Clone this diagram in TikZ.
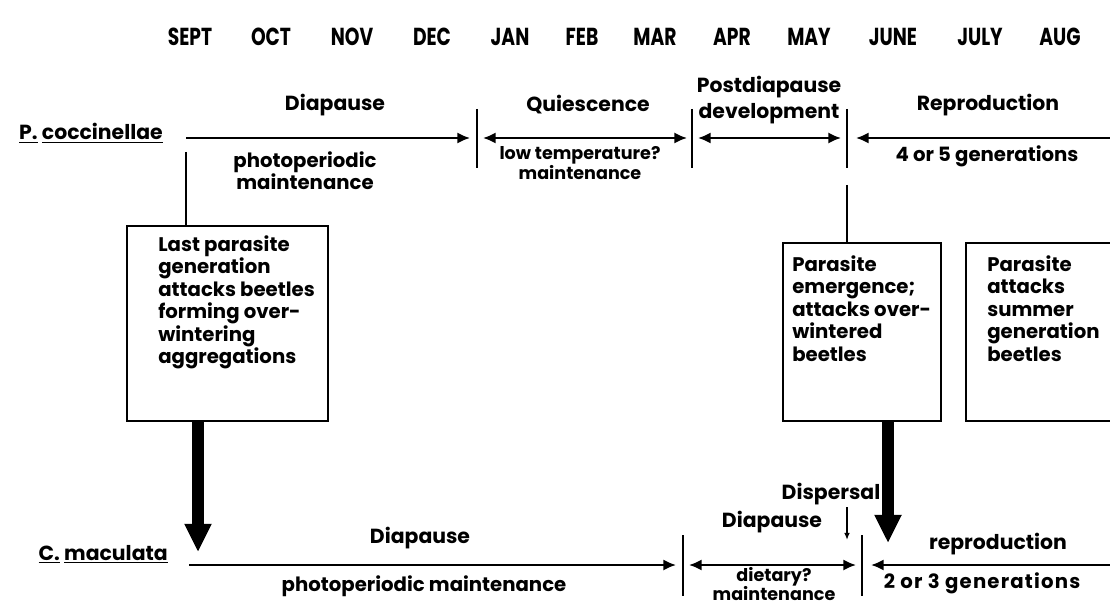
\documentclass[tikz,border=0pt]{standalone}
\usepackage{fontspec}
\setmainfont{Poppins}
\newfontfamily\monthfont{Poppins}[FakeStretch=0.76]
\newfontfamily\widefont{Poppins}[LetterSpace=6]
\usetikzlibrary{arrows.meta}

\tikzset{month/.style={font=\monthfont\bfseries\fontsize{17.5}{19}\selectfont,inner sep=0pt},
phase/.style={font=\bfseries\fontsize{14.5}{16}\selectfont,inner sep=0pt},
note/.style={font=\bfseries\fontsize{14}{15.5}\selectfont,inner sep=0pt,align=center},
species/.style={font=\bfseries\fontsize{14.5}{16}\selectfont,anchor=east,inner sep=0pt},
stage box/.style={draw,line width=1.6pt,anchor=north west,inner sep=0pt},
box text/.style={font=\bfseries\fontsize{14}{16}\selectfont,anchor=north west,align=left,inner sep=0pt},
time line/.style={line width=1.6pt},
one way/.style={time line,-{Latex[length=9pt,width=8pt]}},
two way/.style={time line,{Latex[length=9pt,width=8pt]}-{Latex[length=9pt,width=8pt]}},
back way/.style={time line,{Latex[length=9pt,width=8pt]}-},
big arrow/.style={line width=8pt,-{Triangle[length=20pt,width=18pt]}},
small arrow/.style={line width=1pt,-{Latex[length=5pt,width=4pt]}}}

\begin{document}
\begin{tikzpicture}[x=0.025cm,y=-0.025cm]
\fill[white] (0,0) rectangle (1110,610);
\useasboundingbox (0,0) rectangle (1110,610);

%% months
\foreach \mx/\mname in {190/SEPT,271/OCT,352/NOV,432/DEC,510/JAN,582/FEB,655/MAR,732/APR,809/MAY,893/JUNE,980/JULY,1060/AUG}
  \node [month] (m-\mname) at (\mx,37) {\mname};

%% P. coccinellae line
\node [species] (pc) at (163,133) {\underline{P.} \underline{coccinellae}};
\coordinate (a1) at (186,138);
\coordinate (a2) at (470,138);
\coordinate (a3) at (483,138);
\coordinate (a4) at (687,138);
\coordinate (a5) at (698,138);
\coordinate (a6) at (841,138);
\coordinate (a7) at (856,138);
\coordinate (a8) at (1110,138);
\coordinate (b1t) at (477,109);
\coordinate (b1b) at (477,168);
\coordinate (b2t) at (692,109);
\coordinate (b2b) at (692,168);
\coordinate (b3t) at (847,109);
\coordinate (b3b) at (847,168);

\draw [one way] (a1) -- (a2);
\draw [two way] (a3) -- (a4);
\draw [two way] (a5) -- (a6);
\draw [back way] (a7) -- (a8);
\draw [time line] (b1t) -- (b1b);
\draw [time line] (b2t) -- (b2b);
\draw [time line] (b3t) -- (b3b);

\node [phase] (pc-dia) at (335,105) {Diapause};
\node [note] (pc-dia-m) at (305,171) {photoperiodic\\maintenance};
\node [phase] (pc-qui) at (588,105) {Quiescence};
\node [note,font=\bfseries\fontsize{12.5}{14.5}\selectfont] (pc-qui-m) at (580,163) {low temperature?\\maintenance};
\node [phase,align=center,font=\bfseries\fontsize{14.5}{19}\selectfont] (pc-post) at (769,100) {Postdiapause\\development};
\node [phase] (pc-rep) at (988,105) {Reproduction};
\node [note] (pc-rep-m) at (987,156) {4 or 5 generations};

%% parasite boxes
\node [stage box,minimum width=5.025cm,minimum height=4.875cm] (box1) at (126,225) {};
\node [box text] (box1-t) at (158,235) {Last parasite\\generation\\attacks beetles\\forming over-\\wintering\\aggregations};
\node [stage box,minimum width=3.95cm,minimum height=4.45cm] (box2) at (782,242) {};
\node [box text] (box2-t) at (792,255) {Parasite\\emergence;\\attacks over-\\wintered\\beetles};
\node [stage box,minimum width=4.2cm,minimum height=4.45cm] (box3) at (965,242) {};
\node [box text] (box3-t) at (987,255) {Parasite\\attacks\\summer\\generation\\beetles};

\coordinate (v1) at (186,152);
\coordinate (v2) at (847,185);
\draw [time line] (v1) -- (v1 |- box1.north);
\draw [time line] (v2) -- (v2 |- box2.north);

%% C. maculata line
\node [species] (cm) at (168,554) {\underline{C.} \underline{maculata}};
\coordinate (c1) at (189,565);
\coordinate (c2) at (676,565);
\coordinate (c3) at (689,565);
\coordinate (c4) at (856,565);
\coordinate (c5) at (871,565);
\coordinate (c6) at (1110,565);
\coordinate (d1t) at (683,535);
\coordinate (d1b) at (683,596);
\coordinate (d2t) at (862,535);
\coordinate (d2b) at (862,596);

\draw [one way] (c1) -- (c2);
\draw [two way] (c3) -- (c4);
\draw [back way] (c5) -- (c6);
\draw [time line] (d1t) -- (d1b);
\draw [time line] (d2t) -- (d2b);

\node [phase] (cm-dia) at (420,538) {Diapause};
\node [note] (cm-dia-m) at (424,586) {photoperiodic maintenance};
\node [phase] (cm-dia2) at (772,522) {Diapause};
\node [phase] (cm-disp) at (831,494) {Dispersal};
\node [note,font=\bfseries\fontsize{12.5}{14}\selectfont] (cm-dia2-m) at (774,584) {dietary?\\maintenance};
\node [phase] (cm-rep) at (998,544) {reproduction};
\node [note,font=\widefont\bfseries\fontsize{14}{15.5}\selectfont] (cm-rep-m) at (982,583) {2 or 3 generations};

\coordinate (s1) at (847,507);
\coordinate (s2) at (847,540);
\draw [small arrow] (s1) -- (s2);

%% attack arrows
\coordinate (t1) at (198,552);
\coordinate (t2) at (888,543);
\draw [big arrow] (t1 |- box1.south) -- (t1);
\draw [big arrow] (t2 |- box2.south) -- (t2);

\end{tikzpicture}
\end{document}
